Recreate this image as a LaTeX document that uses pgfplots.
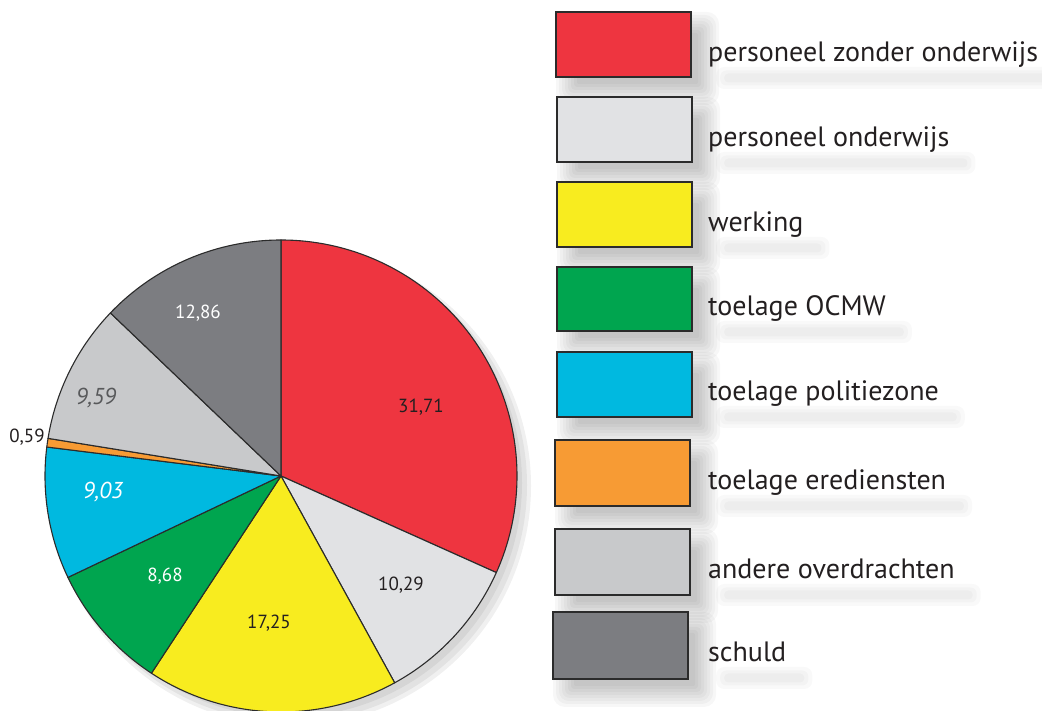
\documentclass[border=0pt]{standalone}
\usepackage{fontspec}
\setmainfont{PT Sans}
\usepackage{pgfplots}
\usepackage{pgfplotstable}
\pgfplotsset{compat=1.18}

\definecolor{cRed}{HTML}{EE3540}
\definecolor{cLight}{HTML}{E1E2E4}
\definecolor{cYellow}{HTML}{F8EC1F}
\definecolor{cGreen}{HTML}{00A54F}
\definecolor{cCyan}{HTML}{00B9E0}
\definecolor{cOrange}{HTML}{F79B34}
\definecolor{cMid}{HTML}{C8C9CB}
\definecolor{cDark}{HTML}{7C7D81}
\definecolor{cText}{HTML}{231F20}
\definecolor{cGreyText}{HTML}{58595B}
\definecolor{cLine}{HTML}{2B2B2B}

% shares in percent, clockwise from twelve o'clock
\pgfplotstableread{
value colour
31.71 cRed
10.29 cLight
17.25 cYellow
8.68  cGreen
9.03  cCyan
0.59  cOrange
9.59  cMid
12.86 cDark
}\piedata

\newcommand{\legfont}{\fontsize{28bp}{32bp}\selectfont}
\newcommand{\numfont}{\fontsize{19bp}{22bp}\selectfont}
\newcommand{\bignumfont}{\fontsize{23bp}{26bp}\selectfont\itshape}

% soft shadow under a box: x1 ybottom x2 ytop (y up)
\newcommand{\boxshadow}[4]{%
  \fill[black,opacity=0.03,rounded corners=12bp] ({#1+0},{#2-28}) rectangle ({#3+28},{#4-0});
  \fill[black,opacity=0.03,rounded corners=11bp] ({#1+3},{#2-25}) rectangle ({#3+25},{#4-3});
  \fill[black,opacity=0.03,rounded corners=10bp] ({#1+6},{#2-22}) rectangle ({#3+22},{#4-6});
  \fill[black,opacity=0.03,rounded corners=8bp] ({#1+9},{#2-19}) rectangle ({#3+19},{#4-9});
  \fill[black,opacity=0.03,rounded corners=6bp] ({#1+12},{#2-16}) rectangle ({#3+16},{#4-12});
  \fill[black,opacity=0.03,rounded corners=4bp] ({#1+15},{#2-13}) rectangle ({#3+13},{#4-15});
  \fill[black,opacity=0.03,rounded corners=3bp] ({#1+18},{#2-10}) rectangle ({#3+10},{#4-18});
  \fill[black,opacity=0.03,rounded corners=2bp] ({#1+21},{#2-7}) rectangle ({#3+7},{#4-21});
}
% blurred band under a label: x baseline text
\newcommand{\textshadow}[3]{%
  \node[anchor=west,font=\legfont,fill=black,fill opacity=0.025,rounded corners=8bp,
        inner xsep=9bp,inner ysep=0pt,minimum height=22bp] at ({#1+8},{#2-16}) {\hphantom{#3}};
  \node[anchor=west,font=\legfont,fill=black,fill opacity=0.025,rounded corners=6bp,
        inner xsep=5bp,inner ysep=0pt,minimum height=15bp] at ({#1+12},{#2-16}) {\hphantom{#3}};
  \node[anchor=west,font=\legfont,fill=black,fill opacity=0.025,rounded corners=4bp,
        inner xsep=1bp,inner ysep=0pt,minimum height=9bp] at ({#1+16},{#2-16}) {\hphantom{#3}};
}
% legend entry: colour, top px, bottom px, left px, baseline px, text
\newcommand{\legentry}[6]{%
  \boxshadow{#4}{711-#3}{#4+135}{711-#2}
  \textshadow{708}{711-#5}{#6}
  \filldraw[fill=#1,draw=cLine,line width=1.3bp] (#4,{711-#3}) rectangle ({#4+135},{711-#2});
  \node[anchor=base west,inner sep=0pt,font=\legfont,text=cText] at (708,{711-#5}) {#6};
}

\begin{document}
\begin{tikzpicture}
\begin{axis}[
  width=1042bp, height=711bp,
  scale only axis,
  xmin=0, xmax=1042,
  ymin=0, ymax=711,
  hide axis,
  clip=false,
]
  \coordinate (BL) at (rel axis cs:0,0);
  \coordinate (TR) at (rel axis cs:1,1);

  % pie shadow
  \fill[black,opacity=0.06] (291,225) circle[radius=240bp];
  \fill[black,opacity=0.06] (290,226) circle[radius=237bp];
  \fill[black,opacity=0.06] (288,228) circle[radius=234bp];

  % wedges from the table
  \def\startA{90}
  \pgfplotsforeachungrouped \i in {0,...,7}{%
    \pgfplotstablegetelem{\i}{value}\of\piedata
    \let\v\pgfplotsretval
    \pgfplotstablegetelem{\i}{colour}\of\piedata
    \let\c\pgfplotsretval
    \pgfmathsetmacro\endA{\startA-3.6*\v}%
    \edef\temp{\noexpand\filldraw[fill=\c,draw=cLine,line width=1.1bp,line join=round]
      (281,235) -- ++(\startA:236bp) arc[start angle=\startA,end angle=\endA,radius=236bp] -- cycle;}%
    \temp
    \global\let\startA\endA
  }

  % slice labels
  \node[font=\numfont,text=cText] at (421,304) {31,71};
  \node[font=\numfont,text=cText] at (401,126) {10,29};
  \node[font=\numfont,text=cText] at (269,88) {17,25};
  \node[font=\numfont,text=white] at (165,135) {8,68};
  \node[font=\bignumfont,text=white] at (103,219) {9,03};
  \node[font=\bignumfont,text=cGreyText] at (96,313) {9,59};
  \node[font=\numfont,text=cText] at (27,274) {0,59};
  \node[font=\numfont,text=white] at (198,398) {12,86};

  % legend
  \legentry{cRed}{12}{77}{556}{62}{personeel zonder onderwijs}
  \legentry{cLight}{97}{162}{557}{147}{personeel onderwijs}
  \legentry{cYellow}{182}{247}{557}{232}{werking}
  \legentry{cGreen}{267}{331}{557}{316}{toelage OCMW}
  \legentry{cCyan}{352}{417}{557}{401}{toelage politiezone}
  \legentry{cOrange}{440}{506}{555}{490}{toelage erediensten}
  \legentry{cMid}{529}{595}{555}{579}{andere overdrachten}
  \legentry{cDark}{612}{679}{553}{662}{schuld}
\end{axis}
\pgfresetboundingbox
\path (BL) rectangle (TR);
\end{tikzpicture}
\end{document}
